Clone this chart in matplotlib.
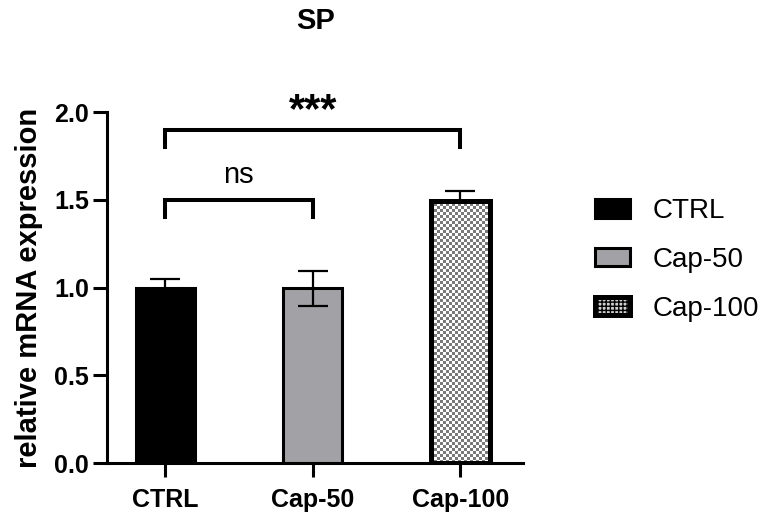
import numpy as np
import matplotlib
matplotlib.use("Agg")
import matplotlib.pyplot as plt
from matplotlib.patches import Patch

plt.rcParams['font.family'] = ['Liberation Sans', 'DejaVu Sans']
plt.rcParams['hatch.color'] = "#707070"

categories = ["CTRL", "Cap-50", "Cap-100"]
means = [1.00, 0.995, 1.495]
errs = [0.05, 0.10, 0.055]
yticks = [0.0, 0.5, 1.0, 1.5, 2.0]
ytick_labels = ["0.0", "0.5", "1.0", "1.5", "2.0"]
title = "SP"
ylabel = "relative mRNA expression"
# significance brackets: (i, j, bracket top, leg drop, label)
sig = [(0, 1, 1.50, 0.10, "ns"), (0, 2, 1.90, 0.10, "***")]

fig = plt.figure(figsize=(7.65, 5.16), dpi=100)
ax = fig.add_axes([0.140, 0.1027, 0.544, 0.680])

x = np.arange(len(categories))
face = ["black", "#a2a2a6", "white"]
lws = [2.2, 2.2, 3.6]
bars = []
for i in range(len(categories)):
    b = ax.bar(x[i], means[i], width=0.40, color=face[i], edgecolor="black",
               linewidth=lws[i], zorder=3 if i != 1 else 1)
    bars.append(b[0])

# checkered texture for Cap-100, clipped to its bar
r = bars[2]
x0, w, h = r.get_x(), r.get_width(), r.get_height()
nx, ny = 20, 88
chk = (np.add.outer(np.arange(ny), np.arange(nx)) % 2).astype(float)
im = ax.imshow(chk, cmap="gray", vmin=-0.9, vmax=1.0, extent=(x0, x0 + w, 0, h),
               aspect="auto", interpolation="nearest", zorder=3)
im.set_clip_path(r)
r.set_zorder(4)
r.set_facecolor("none")

for i in range(len(categories)):
    ax.errorbar(x[i], means[i], yerr=errs[i], fmt="none", ecolor="black",
                elinewidth=1.6, capsize=11, capthick=1.6, zorder=2)

ax.set_xlim(-0.393, 2.427)
ax.set_ylim(0, 2.0)
ax.set_xticks(x)
ax.set_xticklabels(categories, fontsize=18, fontweight="bold")
ax.set_yticks(yticks)
ax.set_yticklabels(ytick_labels, fontsize=18, fontweight="bold")
ax.set_ylabel(ylabel, fontsize=21, fontweight="bold", labelpad=8)
for s in ["top", "right"]:
    ax.spines[s].set_visible(False)
for s in ["left", "bottom"]:
    ax.spines[s].set_linewidth(2.2)
ax.tick_params(axis="both", length=10, width=2.2, direction="out")
ax.tick_params(axis="x", pad=8)
ax.tick_params(axis="y", pad=3)

for i, j, top, drop, lab in sig:
    ax.plot([x[i], x[i], x[j], x[j]], [top - drop, top, top, top - drop],
            color="black", lw=2.9, clip_on=False, solid_joinstyle="miter", zorder=5)
    if lab == "ns":
        ax.text((x[i] + x[j]) / 2, top + 0.06, lab, ha="center", va="bottom",
                fontsize=21, clip_on=False)
    else:
        ax.text((x[i] + x[j]) / 2, top - 0.01, lab, ha="center", va="bottom",
                fontsize=30, fontweight="bold", clip_on=False)

ax.set_title(title, fontsize=21, fontweight="bold", pad=60)

handles = [Patch(facecolor="black", edgecolor="black", linewidth=2.2),
           Patch(facecolor="#a2a2a6", edgecolor="black", linewidth=2.2),
           Patch(facecolor="#cfcfcf", edgecolor="black", linewidth=3.6,
                 hatch="++++")]
leg = fig.legend(handles, categories, loc="upper left", bbox_to_anchor=(0.760, 0.643),
                 frameon=False, fontsize=20, handlelength=1.25, handleheight=0.65,
                 handletextpad=0.8, labelspacing=0.82, borderpad=0)

fig.savefig("out.png", dpi=100)
